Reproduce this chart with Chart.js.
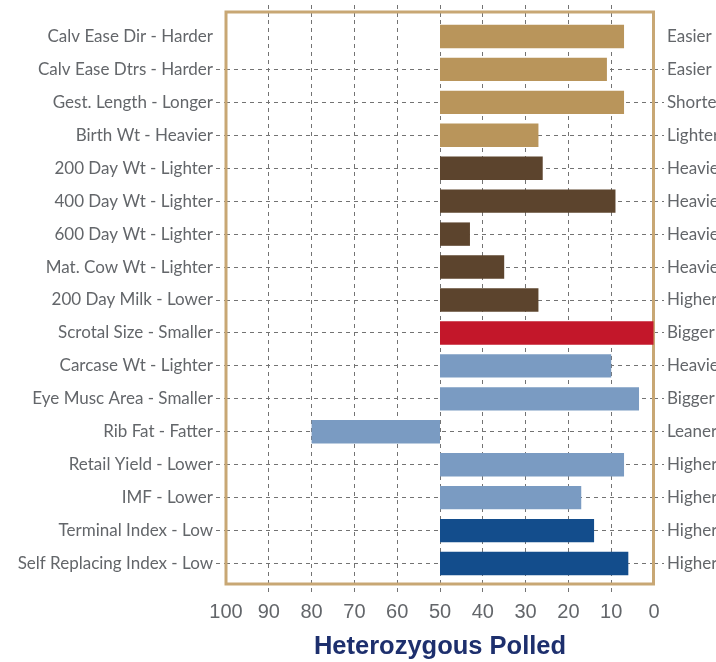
<!DOCTYPE html>
<html>
<head>
<meta charset="utf-8">
<script src="https://cdn.jsdelivr.net/npm/chart.js@4"></script>
<style>
  html, body { margin: 0; padding: 0; background: #fff; }
  #wrap { width: 716px; height: 662px; }
</style>
</head>
<body>
<div id="wrap"><canvas id="chart" width="716" height="662"></canvas></div>
<script>
// trait labels (left), favourable direction (right)
const traits = [
  "Calv Ease Dir - Harder", "Calv Ease Dtrs - Harder", "Gest. Length - Longer",
  "Birth Wt - Heavier", "200 Day Wt - Lighter", "400 Day Wt - Lighter",
  "600 Day Wt - Lighter", "Mat. Cow Wt - Lighter", "200 Day Milk - Lower",
  "Scrotal Size - Smaller", "Carcase Wt - Lighter", "Eye Musc Area - Smaller",
  "Rib Fat - Fatter", "Retail Yield - Lower", "IMF - Lower",
  "Terminal Index - Low", "Self Replacing Index - Low"
];
const directions = [
  "Easier", "Easier", "Shorter", "Lighter", "Heavier", "Heavier", "Heavier",
  "Heavier", "Higher", "Bigger", "Heavier", "Bigger", "Leaner", "Higher",
  "Higher", "Higher", "Higher"
];
// percentile band the breed sits in; bars run from the 50 line
const barStart = 50;
const percentiles = [7, 11, 7, 27, 26, 9, 43, 35, 27, 0, 10, 3.5, 80, 7, 17, 14, 6];
// trait group of each row
const groups = [
  "calving", "calving", "calving", "calving",
  "growth", "growth", "growth", "growth", "growth",
  "fertility",
  "carcase", "carcase", "carcase", "carcase", "carcase",
  "index", "index"
];
const xTicks = [100, 90, 80, 70, 60, 50, 40, 30, 20, 10, 0];

const groupColors = {
  calving: "#B9955B",
  growth: "#5C442D",
  fertility: "#C3172A",
  carcase: "#7A9BC2",
  index: "#134D8C"
};

const gridGrey = "#737373";
const labelGrey = "#63666a";
const labelFont = "Lato, 'Liberation Sans', sans-serif";
const dash = [4, 4];

const hideEnds = (ctx) =>
  ctx.tick && (ctx.tick.value === 0 || ctx.tick.value === 100) ? "rgba(0,0,0,0)" : gridGrey;
const hideFirstRow = (ctx) => (ctx.index === 0 ? "rgba(0,0,0,0)" : gridGrey);

// tan frame around the plot
const framePlugin = {
  id: "frame",
  beforeDatasetsDraw(chart) {
    const { ctx, chartArea } = chart;
    ctx.save();
    ctx.strokeStyle = "#C8A774";
    ctx.lineWidth = 3;
    ctx.strokeRect(chartArea.left, chartArea.top - 8,
      chartArea.right - chartArea.left - 0.5, chartArea.bottom - chartArea.top + 12);
    ctx.restore();
  }
};

new Chart(document.getElementById("chart"), {
  type: "bar",
  data: {
    labels: traits,
    datasets: [{
      data: percentiles.map((p) => [barStart, p]),
      backgroundColor: groups.map((g) => groupColors[g]),
      borderWidth: 0,
      borderSkipped: false,
      categoryPercentage: 1,
      barPercentage: 0.71
    }]
  },
  options: {
    indexAxis: "y",
    responsive: false,
    animation: false,
    devicePixelRatio: 1,
    layout: { padding: 0 },
    plugins: {
      legend: { display: false },
      tooltip: { enabled: false }
    },
    scales: {
      x: {
        type: "linear",
        position: "bottom",
        reverse: true,
        min: 0,
        max: 100,
        afterBuildTicks: (scale) => { scale.ticks = xTicks.map((v) => ({ value: v })); },
        afterFit: (scale) => { scale.height = 82; },
        grid: {
          color: hideEnds,
          tickColor: hideEnds,
          tickLength: 12,
          tickBorderDash: dash
        },
        border: { display: false, dash: dash },
        ticks: {
          autoSkip: false,
          maxRotation: 0,
          padding: 8,
          color: labelGrey,
          font: { family: "'Liberation Sans', Arial, sans-serif", size: 20 }
        },
        title: {
          display: true,
          text: "Heterozygous Polled",
          color: "#1D2F6D",
          padding: { top: 0, bottom: 0 },
          font: { family: "'Liberation Sans', Arial, sans-serif", size: 25.5, weight: "bold" }
        }
      },
      xTop: {
        type: "linear",
        position: "top",
        reverse: true,
        min: 0,
        max: 100,
        afterBuildTicks: (scale) => { scale.ticks = xTicks.map((v) => ({ value: v })); },
        afterFit: (scale) => { scale.height = 20; },
        grid: {
          drawOnChartArea: false,
          color: hideEnds,
          tickColor: hideEnds,
          tickLength: 15,
          tickBorderDash: dash
        },
        border: { display: false },
        ticks: { display: false }
      },
      y: {
        type: "category",
        position: "left",
        offset: true,
        afterFit: (scale) => { scale.width = 226; },
        grid: {
          offset: false,
          color: hideFirstRow,
          tickColor: hideFirstRow,
          tickLength: 10,
          tickBorderDash: dash
        },
        border: { display: false, dash: dash },
        ticks: {
          autoSkip: false,
          padding: 3,
          color: labelGrey,
          font: { family: labelFont, size: 17 }
        }
      },
      yRight: {
        type: "category",
        position: "right",
        labels: directions,
        offset: true,
        afterFit: (scale) => { scale.width = 62; },
        grid: {
          offset: false,
          drawOnChartArea: false,
          color: hideFirstRow,
          tickColor: hideFirstRow,
          tickLength: 10,
          tickBorderDash: dash
        },
        border: { display: false },
        ticks: {
          autoSkip: false,
          padding: 3,
          color: labelGrey,
          font: { family: labelFont, size: 17 }
        }
      }
    }
  },
  plugins: [framePlugin]
});
</script>
</body>
</html>
